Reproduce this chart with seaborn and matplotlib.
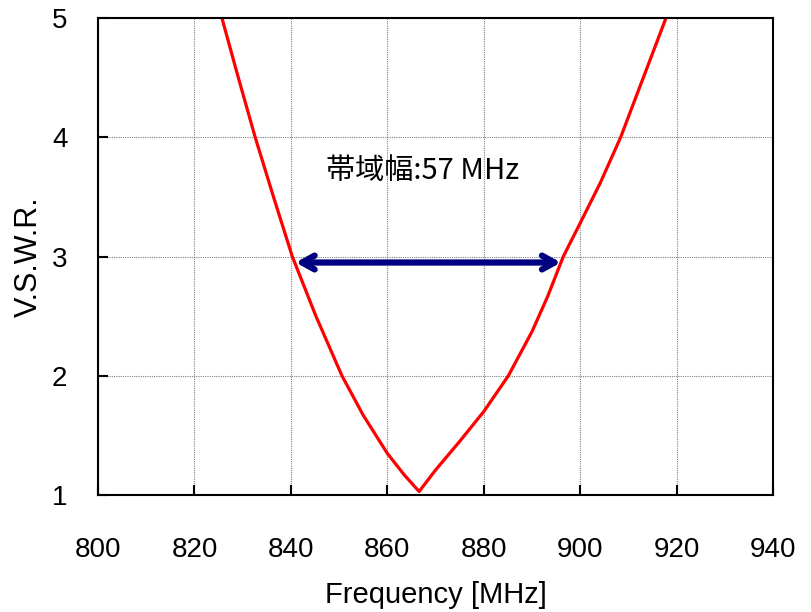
import matplotlib
matplotlib.use("Agg")
import matplotlib.pyplot as plt
import seaborn as sns
import pandas as pd

# V.S.W.R. curve
freq_mhz = [825.7, 829.1, 832.6, 836.4, 840.3, 845.2, 850.6, 855.0, 860.0,
            863.5, 866.6, 870.0, 875.0, 880.0, 885.1, 890.0, 893.2, 896.5,
            900.0, 904.2, 908.4, 913.1, 917.8]
vswr = [5.00, 4.50, 4.00, 3.50, 3.00, 2.50, 2.00, 1.67, 1.35,
        1.17, 1.03, 1.21, 1.45, 1.70, 2.00, 2.37, 2.66, 3.00,
        3.28, 3.62, 4.00, 4.50, 5.00]

x_ticks = [800, 820, 840, 860, 880, 900, 920, 940]
y_ticks = [1, 2, 3, 4, 5]
band_start, band_end, band_level = 841.0, 896.0, 2.95
band_label = "帯域幅:57 MHz"

df = pd.DataFrame({"freq": freq_mhz, "vswr": vswr})

sns.set_style("white")
plt.rcParams['font.family'] = ['Liberation Sans', 'DejaVu Sans']
plt.rcParams['text.color'] = 'black'
plt.rcParams['axes.labelcolor'] = 'black'

fig = plt.figure(figsize=(8.12, 6.12), dpi=100)
ax = fig.add_axes([0.1207, 0.191, 0.8313, 0.7796])

sns.lineplot(data=df, x="freq", y="vswr", color="#ff0000", lw=2.3, ax=ax, sort=False)

ax.set_xlim(800, 940)
ax.set_ylim(1, 5)
ax.set_xticks(x_ticks)
ax.set_yticks(y_ticks)
ax.grid(True, color="#808080", linestyle=(0, (1, 1)), lw=0.8)
ax.tick_params(direction="in", length=7, width=1.5, colors="black", labelsize=20,
               bottom=True, left=True)
ax.tick_params(axis="x", pad=30)
ax.tick_params(axis="y", pad=22)
for s in ax.spines.values():
    s.set_color("black")
    s.set_linewidth(1.5)

ax.set_xlabel("Frequency [MHz]", fontsize=21, labelpad=13)
ax.set_ylabel("V.S.W.R.", fontsize=22, labelpad=6)

ax.annotate("", xy=(band_start, band_level), xytext=(band_end, band_level),
            arrowprops=dict(arrowstyle="<->,head_length=0.9,head_width=0.5",
                            color="#000080", lw=4.5, shrinkA=0, shrinkB=0))
ax.text(867.4, 3.72, band_label, ha="center", va="center", fontsize=21,
        family=['Noto Sans CJK JP', 'DejaVu Sans'])

fig.savefig("out.png", dpi=100)
